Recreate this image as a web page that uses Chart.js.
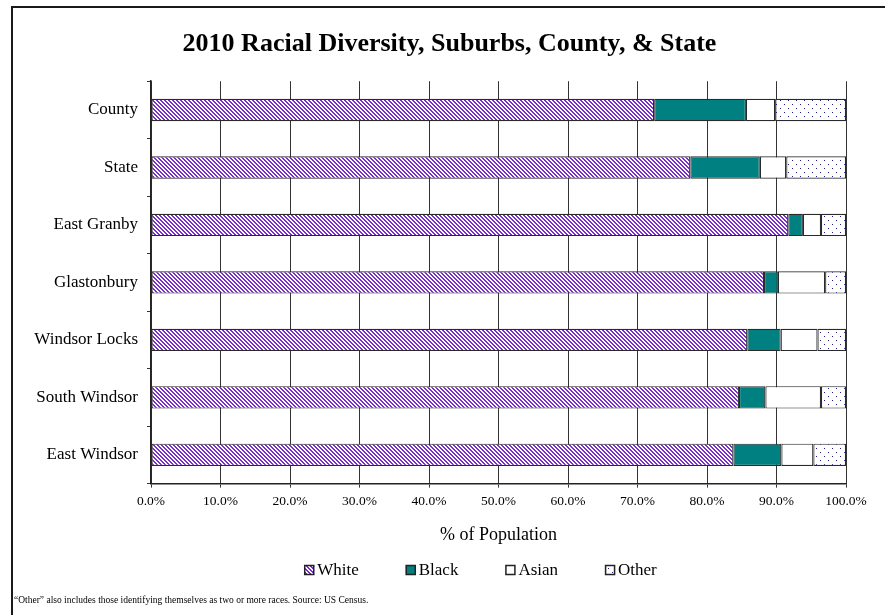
<!DOCTYPE html>
<html>
<head>
<meta charset="utf-8">
<title>2010 Racial Diversity</title>
<script src="https://cdn.jsdelivr.net/npm/chart.js@4.4.1/dist/chart.umd.min.js"></script>
<style>
  html, body { margin: 0; padding: 0; background: #fff; }
  #wrap { position: relative; width: 885px; height: 615px; overflow: hidden; }
  #frame { position: absolute; left: 11px; top: 6px; width: 900px; height: 700px;
           border-left: 2px solid #1a1a1a; border-top: 2px solid #1a1a1a; pointer-events: none; }
</style>
</head>
<body>
<div id="wrap">
  <canvas id="chart" width="885" height="615"></canvas>
  <div id="frame"></div>
</div>
<script>
// Anteile in % der Bevölkerung (Census 2010)
const places = ["County", "State", "East Granby", "Glastonbury", "Windsor Locks", "South Windsor", "East Windsor"];
const white = [72.4, 77.6, 91.7, 88.2, 85.8, 84.6, 83.8];
const black = [13.2, 10.0, 2.1, 2.0, 4.8, 3.8, 6.9];
const asian = [4.2, 3.8, 2.6, 6.8, 5.3, 8.0, 4.6];
const other = [10.2, 8.6, 3.6, 3.0, 4.1, 3.6, 4.7];
const groupNames = ["White", "Black", "Asian", "Other"];
const xTicks = [0, 10, 20, 30, 40, 50, 60, 70, 80, 90, 100];

const SERIF = "'Liberation Serif', 'Times New Roman', serif";
const ctx = document.getElementById("chart").getContext("2d");

// kleine Kachel -> Muster für die Balkenfüllung
function tile(size, draw) {
  const c = document.createElement("canvas");
  c.width = size; c.height = size;
  const g = c.getContext("2d");
  g.fillStyle = "#fff";
  g.fillRect(0, 0, size, size);
  draw(g);
  return ctx.createPattern(c, "repeat");
}

const hatch = tile(4, g => {
  g.fillStyle = "#7a2fcc";
  for (let x = 0; x < 4; x++)
    for (let y = 0; y < 4; y++)
      if (((x - y) % 4 + 4) % 4 < 2) g.fillRect(x, y, 1, 1);
});
const dots = tile(8, g => {
  g.fillStyle = "#1c1c8c";
  g.fillRect(0, 0, 1, 1);
  g.fillRect(4, 4, 1, 1);
});
const fills = [hatch, "#008080", "#ffffff", dots];

const datasets = [white, black, asian, other].map((d, i) => ({
  label: groupNames[i],
  data: d,
  backgroundColor: fills[i],
  borderColor: "#2a2a2a",
  borderWidth: 1.2,
  borderSkipped: false,
  barPercentage: 0.39,
  categoryPercentage: 1.0,
}));

// Legende als eine Zeile unter der Achsenbeschriftung
const legendRow = {
  id: "legendRow",
  afterDraw(chart) {
    const c = chart.ctx;
    const y = 570, box = 10, gap = 3, space = 47, cx = 480.5;
    c.save();
    c.font = "17px " + SERIF;
    c.textBaseline = "middle";
    const items = chart.data.datasets.map(ds => ({ ds, w: box + gap + c.measureText(ds.label).width }));
    const total = items.reduce((s, it) => s + it.w, 0) + space * (items.length - 1);
    let x = cx - total / 2;
    items.forEach(it => {
      c.fillStyle = it.ds.backgroundColor;
      c.fillRect(x, y - box / 2, box, box);
      c.strokeStyle = "#222";
      c.lineWidth = 1.5;
      c.strokeRect(x + 0.5, y - box / 2 + 0.5, box - 1, box - 1);
      c.fillStyle = "#000";
      c.fillText(it.ds.label, x + box + gap, y + 1);
      x += it.w + space;
    });
    c.restore();
  }
};

new Chart(ctx, {
  type: "bar",
  data: { labels: places, datasets },
  plugins: [legendRow],
  options: {
    indexAxis: "y",
    responsive: false,
    animation: false,
    layout: { padding: { left: 14, right: 0, top: 0, bottom: 6 } },
    plugins: {
      legend: { display: false },
      tooltip: { enabled: false },
      title: {
        display: true,
        text: "2010 Racial Diversity, Suburbs, County, & State",
        color: "#000",
        font: { family: SERIF, size: 26, weight: "bold" },
        padding: { top: 29, bottom: 21 },
      },
      subtitle: {
        display: true,
        position: "bottom",
        align: "start",
        text: "\u201COther\u201D also includes those identifying themselves as two or more races. Source: US Census.",
        color: "#000",
        font: { family: SERIF, size: 9.5 },
        padding: { top: 8, bottom: 3 },
      },
    },
    scales: {
      x: {
        stacked: true,
        min: 0, max: 100,
        afterBuildTicks: s => { s.ticks = xTicks.map(v => ({ value: v })); },
        afterFit: s => { s.height = 103; s.paddingRight = 39; },
        ticks: {
          color: "#000",
          padding: 6,
          maxRotation: 0,
          font: { family: SERIF, size: 13.5 },
          callback: v => Number(v).toFixed(1) + "%",
        },
        grid: { color: "#333", lineWidth: 1, tickLength: 4 },
        border: { color: "#222", width: 1.5 },
        title: {
          display: true,
          text: "% of Population",
          color: "#000",
          font: { family: SERIF, size: 18 },
          padding: { top: 4, bottom: 41 },
        },
      },
      y: {
        stacked: true,
        afterFit: s => { s.width = 137; },
        ticks: { color: "#000", padding: 9, font: { family: SERIF, size: 17 } },
        grid: { offset: true, drawOnChartArea: false, color: "#333", tickLength: 4 },
        border: { color: "#222", width: 1.5 },
      },
    },
  },
});
</script>
</body>
</html>
